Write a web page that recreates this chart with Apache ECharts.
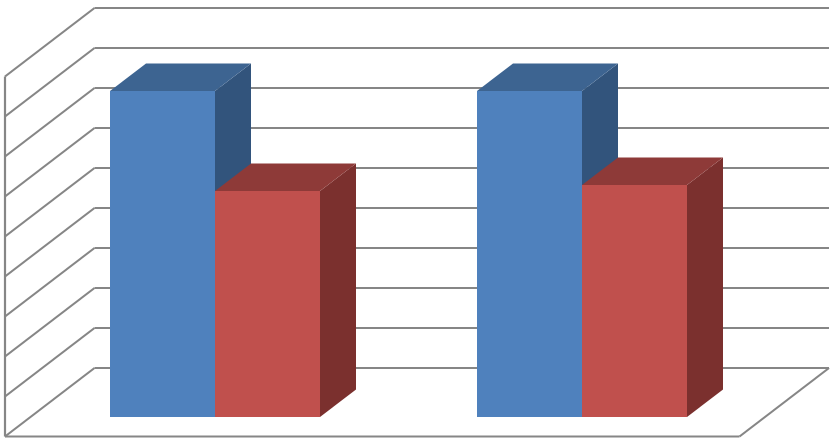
<!DOCTYPE html>
<html>
<head>
<meta charset="utf-8">
<style>html,body{margin:0;padding:0;background:#fff}#c{width:836px;height:441px}</style>
<script src="https://cdn.jsdelivr.net/npm/echarts@6/dist/echarts.min.js"></script>
</head>
<body>
<div id="c"></div>
<script>
const categories = ['A', 'B'];
const seriesBlue = [81.5, 81.4];
const seriesRed = [56.4, 57.9];
const yTicks = [0, 10, 20, 30, 40, 50, 60, 70, 80, 90];

const LINE = '#868686';
const WALL = [-89.5, 68.5];      // back wall to front edge of the floor
const BAR_PLANE = [-63.2, 48.5]; // back wall to the front faces of the bars
const BAR_DEPTH = [36, -27.5];
const BAR_FRACTION = 105 / 367.5;

const wallItem = (params, api) => {
  const v = api.value(0);
  const g = params.coordSys;
  const p = api.coord([0, v]);
  const left = g.x, y = p[1];
  const style = { stroke: LINE, lineWidth: 2.2, fill: null };
  const seg = (x1, y1, x2, y2) => ({ type: 'line', shape: { x1, y1, x2, y2 }, style });
  const children = [seg(left, y, left + WALL[0], y + WALL[1])];
  if (v === yTicks[0]) {
    const fx = left + WALL[0], fy = y + WALL[1];
    const top = api.coord([0, yTicks[yTicks.length - 1]])[1] + WALL[1];
    children.push(seg(fx, top, fx, fy));
    children.push(seg(fx, fy, fx + g.width, fy));
    children.push(seg(fx + g.width, fy, left + g.width, y));
  }
  return { type: 'group', children };
};

const barRenderer = (side, front, top, dark) => (params, api) => {
  const cat = api.value(0);
  const tip = api.coord([cat, api.value(1)]);
  const base = api.coord([cat, 0]);
  const w = api.size([1, 0])[0] * BAR_FRACTION;
  const cx = tip[0] + BAR_PLANE[0];
  const x0 = Math.round(side < 0 ? cx - w : cx);
  const x1 = Math.round(side < 0 ? cx : cx + w);
  const yT = Math.round(tip[1] + BAR_PLANE[1]);
  const yB = Math.round(base[1] + BAR_PLANE[1]);
  const [dx, dy] = BAR_DEPTH;
  const face = (points, fill) => ({ type: 'polygon', shape: { points }, style: { fill, stroke: null } });
  return {
    type: 'group',
    children: [
      face([[x1, yT], [x1 + dx, yT + dy], [x1 + dx, yB + dy], [x1, yB]], dark),
      face([[x0, yT], [x0 + dx, yT + dy], [x1 + dx, yT + dy], [x1, yT]], top),
      face([[x0, yT], [x1, yT], [x1, yB], [x0, yB]], front)
    ]
  };
};

const chart = echarts.init(document.getElementById('c'), null, { renderer: 'canvas' });
chart.setOption({
  animation: false,
  backgroundColor: '#ffffff',
  tooltip: { show: false },
  grid: { left: 94.5, right: 7, top: 8, bottom: 73 },
  xAxis: {
    type: 'category', data: categories,
    axisLine: { show: false }, axisTick: { show: false }, axisLabel: { show: false }, splitLine: { show: false }
  },
  yAxis: {
    type: 'value', min: 0, max: 90, interval: 10,
    axisLine: { show: false }, axisTick: { show: false }, axisLabel: { show: false },
    splitLine: { show: true, lineStyle: { color: LINE, width: 2 } }
  },
  series: [
    {
      type: 'custom', coordinateSystem: 'cartesian2d', silent: true, clip: false,
      encode: { y: 0 },
      data: yTicks.map(v => [v]),
      renderItem: wallItem
    },
    {
      type: 'custom', coordinateSystem: 'cartesian2d', silent: true, clip: false,
      encode: { x: 0, y: 1 },
      data: seriesBlue.map((v, i) => [i, v]),
      renderItem: barRenderer(-1, '#4F81BD', '#3D6491', '#32547C')
    },
    {
      type: 'custom', coordinateSystem: 'cartesian2d', silent: true, clip: false,
      encode: { x: 0, y: 1 },
      data: seriesRed.map((v, i) => [i, v]),
      renderItem: barRenderer(1, '#C0504D', '#8E3A38', '#7B302E')
    }
  ]
});
</script>
</body>
</html>
